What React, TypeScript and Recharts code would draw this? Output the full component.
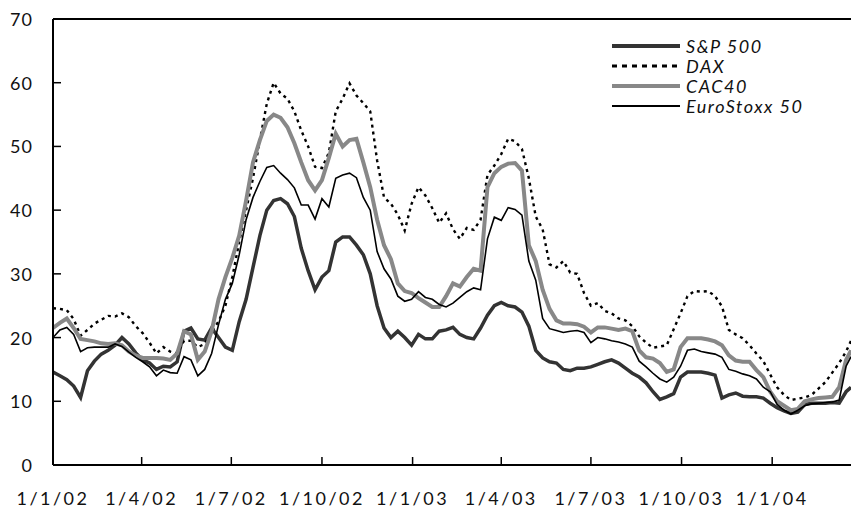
import { LineChart, Line, XAxis, YAxis, ReferenceLine } from 'recharts';

// weekly readings, 1 Jan 2002 to mid-March 2004
const sp500 = [
    14.6, 14.0, 13.4, 12.4, 10.6, 14.8, 16.3, 17.4, 18.0, 18.8,
    20.0, 19.0, 17.6, 16.5, 16.0, 15.0, 15.5, 15.4, 16.2, 21.0,
    21.5, 19.8, 19.6, 21.5, 20.0, 18.5, 18.0, 22.5, 26.0, 31.0,
    36.0, 40.0, 41.5, 41.8, 41.0, 39.0, 34.0, 30.5, 27.5, 29.5,
    30.5, 35.0, 35.8, 35.8, 34.5, 33.0, 30.0, 25.0, 21.5, 20.0,
    21.0, 20.0, 18.8, 20.5, 19.8, 19.8, 21.0, 21.2, 21.6, 20.5,
    20.0, 19.8, 21.5, 23.5, 25.0, 25.5, 25.0, 24.8, 24.0, 21.8,
    18.0, 16.8, 16.2, 16.0, 15.0, 14.8, 15.2, 15.2, 15.4, 15.8,
    16.2, 16.5, 16.0, 15.2, 14.4, 13.8, 12.9, 11.5, 10.3, 10.7,
    11.2, 13.8, 14.6, 14.6, 14.6, 14.4, 14.1, 10.5, 11.0, 11.3,
    10.8, 10.7, 10.7, 10.5, 9.7, 9.0, 8.5, 8.1, 8.3, 9.5,
    9.7, 9.7, 9.7, 9.8, 9.7, 11.5, 12.2,
];

const dax = [
    24.6, 24.5, 24.3, 22.9, 20.3, 21.2, 22.2, 22.8, 23.4, 23.3,
    23.8, 23.2, 21.8, 20.7, 19.2, 17.5, 18.5, 17.8, 17.5, 19.5,
    19.5, 18.5, 19.0, 21.0, 22.5, 25.0, 29.5, 35.0, 40.0, 45.0,
    51.0, 56.7, 60.0, 58.3, 57.5, 55.5, 52.5, 50.0, 46.8, 46.6,
    49.0, 55.5, 57.5, 59.9, 58.0, 56.8, 55.5, 47.8, 42.0, 41.0,
    39.3, 36.8, 41.0, 43.6, 42.3, 40.3, 38.0, 39.5, 37.0, 35.5,
    37.2, 36.9, 38.5, 45.5, 47.0, 48.8, 51.2, 50.8, 49.6, 45.0,
    39.0, 37.0, 31.5, 31.0, 32.0, 30.2, 30.0, 27.0, 25.0, 25.4,
    24.2, 23.8, 23.0, 22.7, 21.8, 20.2, 19.2, 18.4, 18.6, 18.8,
    21.3, 23.8, 26.5, 27.3, 27.2, 27.3, 26.5, 24.9, 21.2, 20.5,
    19.9, 18.8, 17.5, 16.3, 14.2, 12.2, 11.0, 10.2, 10.4, 10.6,
    11.0, 12.0, 13.0, 14.5, 16.0, 17.8, 19.5,
];

const cac40 = [
    21.5, 22.3, 23.0, 21.5, 19.8, 19.6, 19.4, 19.1, 19.0, 19.1,
    18.8, 17.8, 17.2, 16.8, 16.8, 16.8, 16.7, 16.5, 17.5, 21.0,
    20.5, 16.5, 17.8, 21.0, 26.0, 29.5, 32.5, 36.0, 41.5, 47.5,
    51.0, 54.0, 55.0, 54.5, 53.0, 50.5, 47.5, 44.7, 43.1, 44.7,
    48.2, 52.0, 50.0, 51.0, 51.2, 47.5, 43.6, 38.5, 34.5, 32.3,
    28.5, 27.3, 27.0, 26.2, 25.5, 24.8, 24.8, 26.5, 28.5, 28.0,
    29.5, 30.8, 30.5, 43.6, 45.8, 46.8, 47.3, 47.4, 46.2, 34.5,
    32.0, 27.5, 24.5, 22.7, 22.2, 22.2, 22.1, 21.7, 20.8, 21.6,
    21.6, 21.4, 21.2, 21.4, 21.0, 18.0, 16.9, 16.7, 16.0, 14.6,
    15.0, 18.5, 19.9, 19.9, 19.9, 19.7, 19.4, 18.8, 17.2, 16.4,
    16.2, 16.2, 14.9, 13.8, 11.5, 10.0, 9.3, 8.6, 8.8, 10.0,
    10.3, 10.5, 10.6, 10.7, 12.2, 16.5, 18.0,
];

const euroStoxx = [
    20.0, 21.2, 21.6, 20.5, 17.8, 18.4, 18.5, 18.5, 18.5, 19.0,
    18.6, 17.7, 16.9, 16.2, 15.4, 14.0, 14.9, 14.5, 14.4, 17.0,
    16.5, 14.0, 15.0, 17.5, 22.0, 26.0, 28.5, 33.0, 38.5, 42.0,
    44.5, 46.7, 47.0, 45.8, 44.8, 43.5, 40.8, 40.8, 38.6, 41.8,
    40.5, 45.0, 45.5, 45.8, 45.1, 42.0, 40.0, 33.5, 30.8, 29.2,
    26.5, 25.7, 26.0, 27.2, 26.3, 26.0, 25.2, 24.8, 25.4, 26.3,
    27.2, 27.8, 27.5, 35.5, 38.9, 38.4, 40.4, 40.1, 39.2, 32.0,
    29.0, 23.0, 21.4, 21.1, 20.8, 21.0, 21.1, 20.8, 19.2, 20.0,
    19.8, 19.5, 19.3, 19.0, 18.5, 16.3, 15.4, 14.4, 13.5, 13.0,
    13.8, 15.5, 18.0, 18.2, 17.8, 17.6, 17.4, 16.9, 15.0, 14.7,
    14.3, 14.0, 13.5, 12.2, 11.5, 9.5, 8.6, 8.0, 8.6, 9.3,
    9.6, 9.7, 9.8, 9.9, 10.2, 15.5, 17.0,
];

// days since 1/1/02 for the quarter ticks
const tickDays = [0, 90, 181, 273, 365, 455, 546, 638, 730];
const tickLabels = ['1/1/02', '1/4/02', '1/7/02', '1/10/02', '1/1/03', '1/4/03', '1/7/03', '1/10/03', '1/1/04'];
const yTicks = [0, 10, 20, 30, 40, 50, 60, 70];
const lastDay = 810;

const series = [
    { key: 'sp', name: 'S&P 500', color: '#333333', width: 3.5, legendWidth: 4, dash: undefined, legendDash: undefined },
    { key: 'dax', name: 'DAX', color: '#000000', width: 2.4, legendWidth: 3, dash: '3 4', legendDash: '5 5' },
    { key: 'cac', name: 'CAC40', color: '#888888', width: 4, legendWidth: 4, dash: undefined, legendDash: undefined },
    { key: 'eu', name: 'EuroStoxx 50', color: '#000000', width: 1.6, legendWidth: 2, dash: undefined, legendDash: undefined },
];

const data = sp500.map((v, i) => ({
    day: Math.min(i * 7, lastDay),
    sp: v,
    dax: dax[i],
    cac: cac40[i],
    eu: euroStoxx[i],
}));

const FONT = 'Lato, "Open Sans", sans-serif';

const XTick = (props: any) => {
    const { x, y, payload } = props;
    const idx = tickDays.indexOf(payload.value);
    return (
        <g>
            <line x1={x} x2={x} y1={y} y2={y - 8} stroke="#000" strokeWidth={1.5} />
            <text x={x} y={y + 40} textAnchor="middle" fontFamily={FONT} fontSize={18} letterSpacing={2.5} fill="#111">
                {tickLabels[idx]}
            </text>
        </g>
    );
};

const YTick = (props: any) => {
    const { x, y, payload } = props;
    return (
        <g>
            <line x1={x} x2={x + 8} y1={y} y2={y} stroke="#000" strokeWidth={1.5} />
            <text x={x - 20} y={y + 7} textAnchor="end" fontFamily={FONT} fontSize={18} letterSpacing={1} fill="#111">
                {payload.value}
            </text>
        </g>
    );
};

export default function App() {
    return (
        <div style={{ position: 'absolute', left: 0, top: 0, width: 853, height: 509, background: '#fff' }}>
            <LineChart width={853} height={509} data={data} margin={{ top: 19, right: 2, bottom: 14, left: 8 }}>
                <XAxis
                    dataKey="day"
                    type="number"
                    domain={[0, lastDay]}
                    ticks={tickDays}
                    interval={0}
                    tickLine={false}
                    tickSize={0}
                    tickMargin={0}
                    height={30}
                    axisLine={{ stroke: '#000', strokeWidth: 2 }}
                    tick={<XTick />}
                    allowDataOverflow
                />
                <YAxis
                    type="number"
                    domain={[0, 70]}
                    ticks={yTicks}
                    interval={0}
                    tickLine={false}
                    tickSize={0}
                    tickMargin={0}
                    width={45}
                    axisLine={{ stroke: '#000', strokeWidth: 2 }}
                    tick={<YTick />}
                />
                <ReferenceLine y={70} stroke="#000" strokeWidth={2} />
                {series.map((s) => (
                    <Line
                        key={s.key}
                        dataKey={s.key}
                        name={s.name}
                        type="linear"
                        stroke={s.color}
                        strokeWidth={s.width}
                        strokeDasharray={s.dash}
                        dot={false}
                        activeDot={false}
                        isAnimationActive={false}
                    />
                ))}
            </LineChart>
            <div style={{ position: 'absolute', left: 611, top: 36, fontFamily: FONT, fontStyle: 'italic', fontSize: 18, letterSpacing: 1.5, color: '#111' }}>
                {series.map((s) => (
                    <div key={s.key} style={{ display: 'flex', alignItems: 'center', height: 20 }}>
                        <svg width={70} height={10} style={{ marginRight: 5 }}>
                            <line x1={1} x2={69} y1={5} y2={5} stroke={s.color} strokeWidth={s.legendWidth} strokeDasharray={s.legendDash} />
                        </svg>
                        <span>{s.name}</span>
                    </div>
                ))}
            </div>
        </div>
    );
}
